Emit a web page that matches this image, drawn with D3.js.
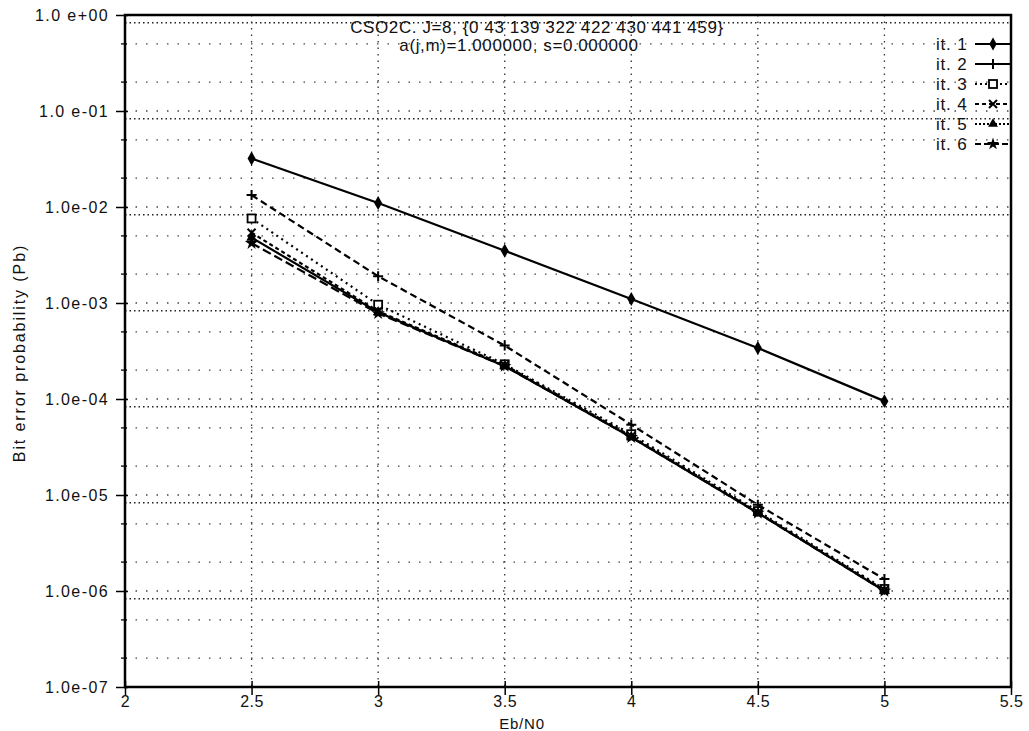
<!DOCTYPE html>
<html>
<head>
<meta charset="utf-8">
<script src="https://cdn.jsdelivr.net/npm/d3@7"></script>
<style>
body { margin: 0; background: #ffffff; }
text { font-family: "Liberation Sans", Arial, sans-serif; fill: #111; }
</style>
</head>
<body>
<svg id="chart" width="1029" height="731"></svg>
<script>
// Data lest av bildet
var ebno = [2.5, 3, 3.5, 4, 4.5, 5];
var it1 = [3.2e-2, 1.1e-2, 3.5e-3, 1.1e-3, 3.4e-4, 9.5e-5];
var it2 = [1.33e-2, 1.9e-3, 3.6e-4, 5.4e-5, 7.9e-6, 1.33e-6];
var it3 = [7.6e-3, 9.6e-4, 2.3e-4, 4.3e-5, 6.8e-6, 1.05e-6];
var it4 = [5.4e-3, 8.2e-4, 2.25e-4, 4.1e-5, 6.6e-6, 1.02e-6];
var it5 = [4.8e-3, 8.0e-4, 2.2e-4, 4.0e-5, 6.5e-6, 1.0e-6];
var it6 = [4.2e-3, 7.8e-4, 2.2e-4, 4.0e-5, 6.5e-6, 1.0e-6];
var serieNavn = ["it. 1", "it. 2", "it. 3", "it. 4", "it. 5", "it. 6"];
var xTicks = [2, 2.5, 3, 3.5, 4, 4.5, 5, 5.5];
var xTickLabels = ["2", "2.5", "3", "3.5", "4", "4.5", "5", "5.5"];
var yTicks = [1, 1e-1, 1e-2, 1e-3, 1e-4, 1e-5, 1e-6, 1e-7];
var yTickLabels = ["1.0 e+00", "1.0 e-01", "1.0e-02", "1.0e-03", "1.0e-04", "1.0e-05", "1.0e-06", "1.0e-07"];

var serier = [it1, it2, it3, it4, it5, it6];
var strek = ["none", "7,4", "2,4", "4,3", "none", "9,4"];
var legStrek = ["none", "none", "2,3", "4,3", "2,2", "6,3"];
var symbol = ["diamond", "plus", "square", "cross", "triangle", "star"];

var svg = d3.select("#chart");
var venstre = 125, hoyre = 1011, topp = 15, bunn = 687;

var x = d3.scaleLinear().domain([2, 5.5]).range([venstre, hoyre]);
var y = d3.scaleLog().domain([1e-7, 1]).range([bunn, topp]);

// Rutenett
var minor = [];
yTicks.forEach(function(d) {
    if (d < 1) { minor.push(d * 2); minor.push(d * 5); }
});
svg.append("g").selectAll("line")
    .data(minor.concat(yTicks.slice(1, 7)))
    .enter().append("line")
    .attr("x1", venstre).attr("x2", hoyre)
    .attr("y1", function(d) { return y(d); })
    .attr("y2", function(d) { return y(d); })
    .attr("stroke", "#444")
    .attr("stroke-width", 1.3)
    .attr("stroke-dasharray", "1.5,9");

// tette linjer litt under hver dekade (slik som i originalen)
svg.append("g").selectAll("line")
    .data(yTicks.slice(0, 7))
    .enter().append("line")
    .attr("x1", venstre).attr("x2", hoyre)
    .attr("y1", function(d) { return y(d * 0.83); })
    .attr("y2", function(d) { return y(d * 0.83); })
    .attr("stroke", "#222")
    .attr("stroke-width", 1.4)
    .attr("stroke-dasharray", "1.5,3");

svg.append("g").selectAll("line")
    .data(xTicks.slice(1, 7))
    .enter().append("line")
    .attr("x1", function(d) { return x(d); })
    .attr("x2", function(d) { return x(d); })
    .attr("y1", topp).attr("y2", bunn)
    .attr("stroke", "#333")
    .attr("stroke-width", 1.3)
    .attr("stroke-dasharray", "1.5,5");

// Ramme
svg.append("rect")
    .attr("x", venstre).attr("y", topp)
    .attr("width", hoyre - venstre).attr("height", bunn - topp)
    .attr("fill", "none")
    .attr("stroke", "#000")
    .attr("stroke-width", 2.5);

// Akser
var xAkse = d3.axisBottom(x).tickValues(xTicks)
    .tickFormat(function(d, i) { return xTickLabels[i]; })
    .tickSize(6);
var gx = svg.append("g").attr("transform", "translate(0," + bunn + ")").call(xAkse);
gx.select(".domain").remove();
gx.selectAll(".tick line").attr("y1", -6).attr("y2", 8).attr("stroke-width", 1.5);
gx.selectAll("text").attr("y", 9).attr("dy", "0.71em")
    .style("font-size", "16px").style("letter-spacing", "0.5px");

var yAkse = d3.axisLeft(y).tickValues(yTicks)
    .tickFormat(function(d, i) { return yTickLabels[i]; })
    .tickSize(8).tickPadding(8);
var gy = svg.append("g").attr("transform", "translate(" + venstre + ",0)").call(yAkse);
gy.select(".domain").remove();
gy.selectAll(".tick line").attr("x2", -9).attr("x1", 3).attr("stroke-width", 1.5);
gy.selectAll("text").style("font-size", "16px").style("letter-spacing", "1.4px");

svg.append("g").selectAll("line")
    .data(minor)
    .enter().append("line")
    .attr("x1", venstre - 4).attr("x2", venstre + 2)
    .attr("y1", function(d) { return y(d); })
    .attr("y2", function(d) { return y(d); })
    .attr("stroke", "#000").attr("stroke-width", 1.3);

svg.append("text")
    .attr("x", 522).attr("y", 729)
    .attr("text-anchor", "middle")
    .style("font-size", "15px")
    .style("letter-spacing", "0.8px")
    .text("Eb/N0");

svg.append("text")
    .attr("transform", "translate(25,353) rotate(-90)")
    .attr("text-anchor", "middle")
    .style("font-size", "16px")
    .style("letter-spacing", "1.9px")
    .text("Bit error probability (Pb)");

// Tittel
svg.append("text")
    .attr("x", 537).attr("y", 33)
    .attr("text-anchor", "middle")
    .style("font-size", "17px")
    .style("letter-spacing", "0.6px")
    .text("CSO2C. J=8, {0 43 139 322 422 430 441 459}");
svg.append("text")
    .attr("x", 519).attr("y", 51)
    .attr("text-anchor", "middle")
    .style("font-size", "17px")
    .style("letter-spacing", "0.6px")
    .text("a(j,m)=1.000000, s=0.000000");

// Symboler
function tegnSymbol(g, type, cx, cy, s) {
    if (type === "diamond") {
        g.append("path").attr("d", d3.symbol().type(d3.symbolDiamond).size(s * 4)())
            .attr("transform", "translate(" + cx + "," + cy + ")").attr("fill", "#000");
    }
    else if (type === "plus") {
        g.append("path").attr("d", "M" + (cx - 5) + "," + cy + "H" + (cx + 5) + "M" + cx + "," + (cy - 5) + "V" + (cy + 5))
            .attr("stroke", "#000").attr("stroke-width", 2);
    }
    else if (type === "square") {
        g.append("rect").attr("x", cx - 4).attr("y", cy - 4).attr("width", 8).attr("height", 8)
            .attr("fill", "#fff").attr("stroke", "#000").attr("stroke-width", 1.8);
    }
    else if (type === "cross") {
        g.append("path").attr("d", "M" + (cx - 4) + "," + (cy - 4) + "L" + (cx + 4) + "," + (cy + 4) + "M" + (cx + 4) + "," + (cy - 4) + "L" + (cx - 4) + "," + (cy + 4))
            .attr("stroke", "#000").attr("stroke-width", 2);
    }
    else if (type === "triangle") {
        g.append("path").attr("d", d3.symbol().type(d3.symbolTriangle).size(s * 3.5)())
            .attr("transform", "translate(" + cx + "," + cy + ")").attr("fill", "#000");
    }
    else {
        g.append("path").attr("d", d3.symbol().type(d3.symbolStar).size(s * 4)())
            .attr("transform", "translate(" + cx + "," + cy + ")").attr("fill", "#000");
    }
}

var linje = d3.line()
    .x(function(d, i) { return x(ebno[i]); })
    .y(function(d) { return y(d); });

var kurver = svg.append("g");
serier.forEach(function(s, k) {
    kurver.append("path")
        .attr("d", linje(s))
        .attr("fill", "none")
        .attr("stroke", "#000")
        .attr("stroke-width", 2.2)
        .attr("stroke-dasharray", strek[k]);
});
serier.forEach(function(s, k) {
    s.forEach(function(v, i) {
        tegnSymbol(kurver, symbol[k], x(ebno[i]), y(v), 14);
    });
});

// Forklaring
var leg = svg.append("g");
serieNavn.forEach(function(n, k) {
    var ly = 44 + k * 20;
    leg.append("text")
        .attr("x", 936).attr("y", ly + 6)
        .style("font-size", "17px")
        .style("letter-spacing", "0.8px")
        .text(n);
    leg.append("line")
        .attr("x1", 975).attr("x2", 1010)
        .attr("y1", ly).attr("y2", ly)
        .attr("stroke", "#000").attr("stroke-width", 2)
        .attr("stroke-dasharray", legStrek[k]);
    tegnSymbol(leg, symbol[k], 993, ly, 12);
});
</script>
</body>
</html>
